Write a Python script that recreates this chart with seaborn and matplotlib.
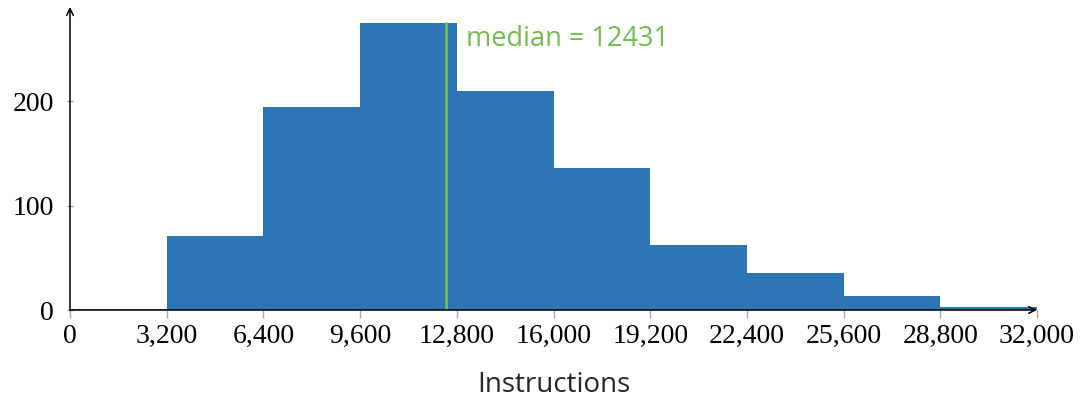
import numpy as np
import pandas as pd
import matplotlib
matplotlib.use("Agg")
import matplotlib.pyplot as plt
import seaborn as sns

# Histogram of instruction counts, bins of width 3,200
bin_edges = [0, 3200, 6400, 9600, 12800, 16000, 19200, 22400, 25600, 28800, 32000]
bin_counts = [1, 71, 194, 275, 210, 136, 62, 35, 13, 3]
x_tick_labels = ["0", "3,200", "6,400", "9,600", "12,800", "16,000",
                 "19,200", "22,400", "25,600", "28,800", "32,000"]
y_ticks = [0, 100, 200]
median_value = 12431

BAR_COLOR = "#2E75B6"
MEDIAN_COLOR = "#70BF4A"

sns.set_theme(style="white")
plt.rcParams["font.family"] = ["Liberation Serif", "DejaVu Serif"]

centers = [(a + b) / 2 for a, b in zip(bin_edges[:-1], bin_edges[1:])]
df = pd.DataFrame({"instructions": centers, "count": bin_counts})

fig = plt.figure(figsize=(10.84, 3.98), dpi=100)
ax = fig.add_axes([70 / 1084, 1 - 310 / 398, (1037 - 70) / 1084, (310 - 7) / 398])

sns.histplot(data=df, x="instructions", weights="count", bins=bin_edges,
             color=BAR_COLOR, alpha=1, linewidth=0, ax=ax)

ax.set_xlim(0, 32000)
ax.set_ylim(0, 290)

ax.axvline(median_value, color=MEDIAN_COLOR, linewidth=2, ymax=275 / 290)
ax.text(median_value + 680, 259, f"median = {median_value}", color=MEDIAN_COLOR,
        fontsize=19.5, family=["Open Sans", "DejaVu Sans"], va="center", ha="left")

ax.set_xticks(bin_edges)
ax.set_xticklabels(x_tick_labels)
ax.set_yticks(y_ticks)
ax.set_yticklabels([str(v) for v in y_ticks])
ax.tick_params(axis="x", length=6, width=1, color="#AAAAAA", direction="out",
               labelsize=20, pad=4, labelcolor="black", bottom=True)
ax.tick_params(axis="y", length=5, width=1, color="#999999", direction="inout",
               labelsize=20, pad=9, labelcolor="black", left=True)

ax.set_xlabel("Instructions", fontsize=20, family=["Open Sans", "DejaVu Sans"],
              labelpad=16)
ax.set_ylabel("")

for side in ["top", "right", "left", "bottom"]:
    ax.spines[side].set_visible(False)

# Axis lines drawn as arrows
ax.annotate("", xy=(0, 1), xytext=(0, 0), xycoords="axes fraction",
            arrowprops=dict(arrowstyle="->", color="black", lw=1.1,
                            shrinkA=0, shrinkB=0), annotation_clip=False)
ax.annotate("", xy=(1, 0), xytext=(0, 0), xycoords="axes fraction",
            arrowprops=dict(arrowstyle="->", color="black", lw=1.1,
                            shrinkA=0, shrinkB=0), annotation_clip=False)

fig.savefig("out.png", dpi=100)
